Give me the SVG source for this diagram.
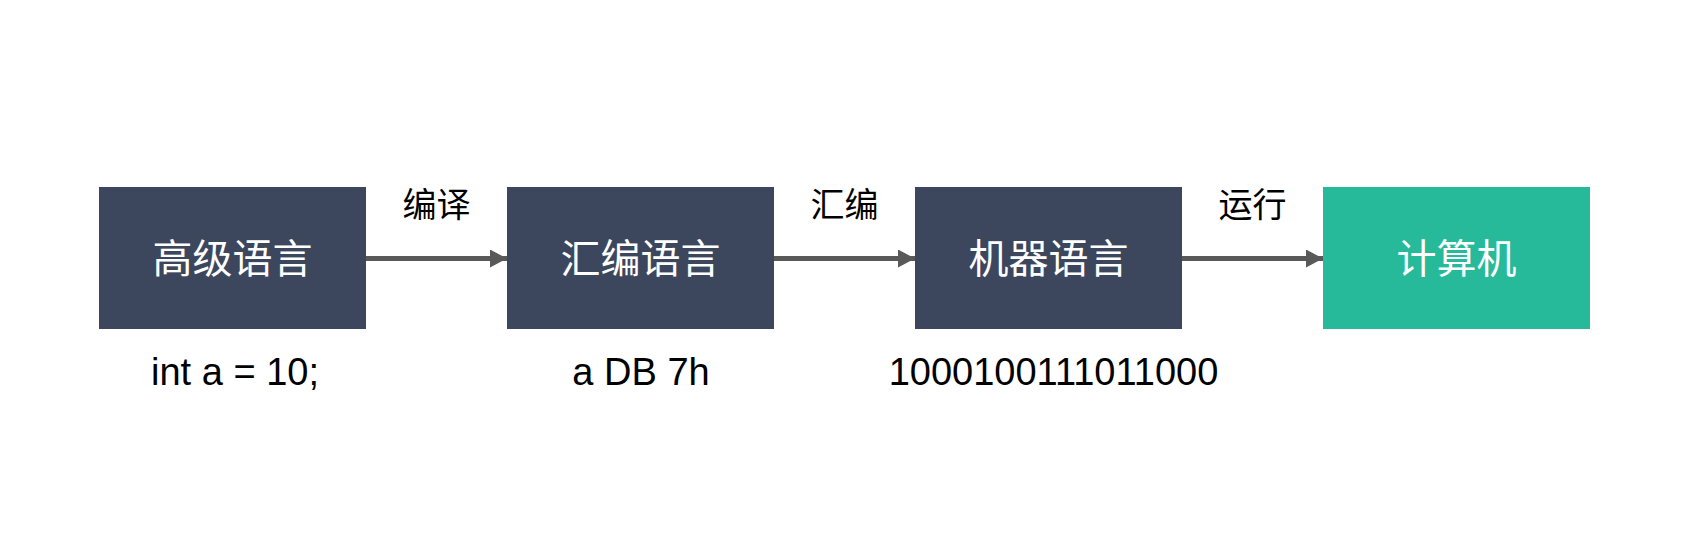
<svg xmlns="http://www.w3.org/2000/svg" width="1690" height="545" viewBox="0 0 1690 545">
<style>
.box{fill:#3C475E}
.box2{fill:#26BA9A}
.bt{font-family:"Noto Sans CJK SC",sans-serif;font-size:40px;fill:#FFFFFF;text-anchor:middle}
.lb{font-family:"Noto Sans CJK SC",sans-serif;font-size:34px;fill:#000000;text-anchor:middle}
.code{font-family:"Liberation Sans",Arial,sans-serif;font-size:38px;fill:#000000;text-anchor:middle}
.conn{stroke:#595959;stroke-width:5;fill:none}
</style>
<defs>
<marker id="ah" markerUnits="userSpaceOnUse" markerWidth="18" markerHeight="18" refX="17" refY="9" orient="auto">
<path d="M0,0 L17,9 L0,18 Z" fill="#595959"/>
</marker>
</defs>
<rect width="1690" height="545" fill="#FFFFFF"/>
<g id="connectors">
<line class="conn" x1="366" y1="258.5" x2="507" y2="258.5" marker-end="url(#ah)"/>
<line class="conn" x1="774" y1="258.5" x2="915" y2="258.5" marker-end="url(#ah)"/>
<line class="conn" x1="1182" y1="258.5" x2="1323" y2="258.5" marker-end="url(#ah)"/>
<text class="lb" x="436.5" y="216.5">编译</text>
<text class="lb" x="844.5" y="216.5">汇编</text>
<text class="lb" x="1252.5" y="216.5">运行</text>
</g>
<g id="node-high">
<rect class="box" x="99" y="187" width="267" height="142"/>
<text class="bt" x="232.5" y="273">高级语言</text>
<text class="code" x="235" y="385">int a = 10;</text>
</g>
<g id="node-asm">
<rect class="box" x="507" y="187" width="267" height="142"/>
<text class="bt" x="640.5" y="273">汇编语言</text>
<text class="code" x="641" y="385">a DB 7h</text>
</g>
<g id="node-machine">
<rect class="box" x="915" y="187" width="267" height="142"/>
<text class="bt" x="1048.5" y="273">机器语言</text>
<text class="code" x="1053.5" y="385">1000100111011000</text>
</g>
<g id="node-computer">
<rect class="box2" x="1323" y="187" width="267" height="142"/>
<text class="bt" x="1456.5" y="273">计算机</text>
</g>
</svg>
